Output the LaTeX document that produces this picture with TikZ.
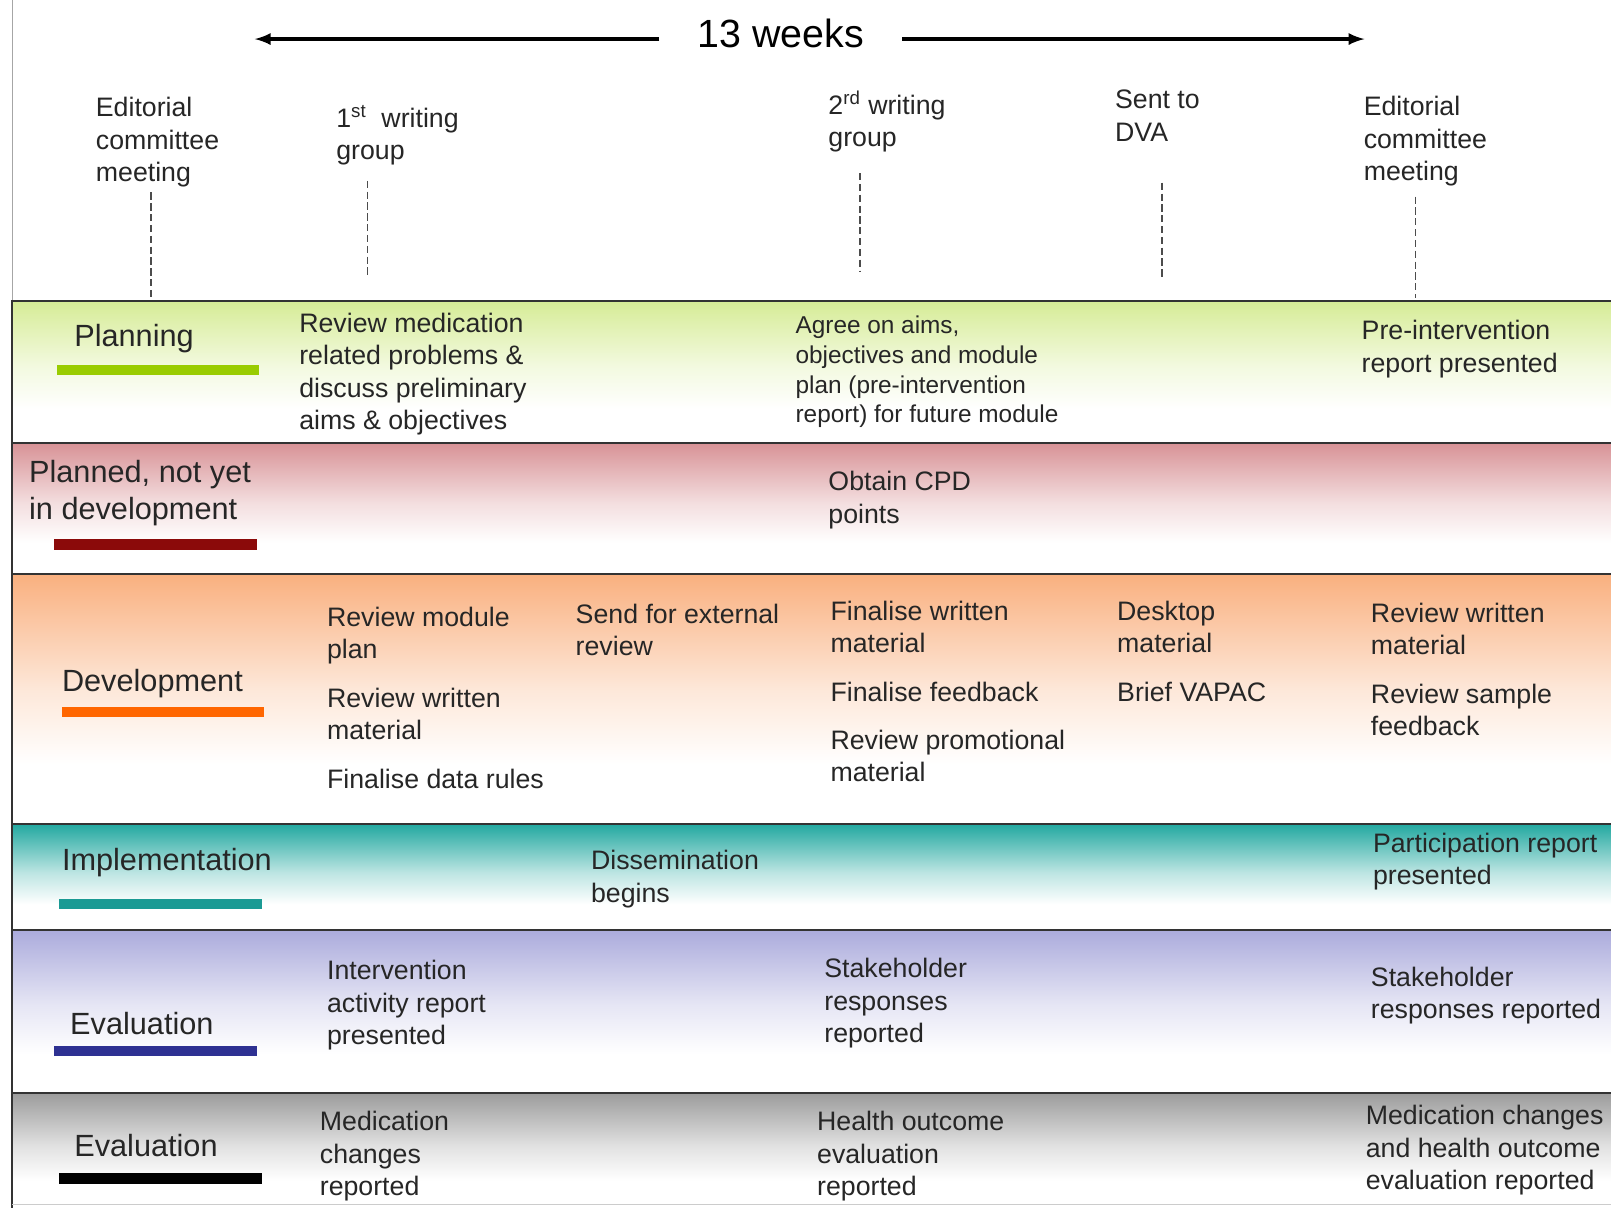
\documentclass[tikz,border=0pt]{standalone}
\usepackage{fontspec}
\setmainfont{Liberation Sans}
\usepackage{tikz}

\definecolor{plangreen}{HTML}{99CC00}
\definecolor{planfade}{HTML}{D6EC96}
\definecolor{notyetred}{HTML}{8B0A0A}
\definecolor{notyetfade}{HTML}{D89296}
\definecolor{devorange}{HTML}{FF6600}
\definecolor{devfade}{HTML}{F9B07F}
\definecolor{impteal}{HTML}{1A9A94}
\definecolor{impfade}{HTML}{22A8A0}
\definecolor{evalblue}{HTML}{2E3192}
\definecolor{evalfade}{HTML}{ABABDC}
\definecolor{evalgray}{HTML}{9C9C9C}

% top colour fading to white, path spans 25bp..75bp
\colorlet{bandtop}{white}
\pgfdeclareverticalshading[bandtop]{bandfade}{100bp}{color(0bp)=(white); color(25bp)=(white); color(37bp)=(white); color(52bp)=(bandtop!30); color(75bp)=(bandtop); color(100bp)=(bandtop)}
\tikzset{fade/.style={shading=bandfade, /utils/exec={\colorlet{bandtop}{#1}}}}

\newcommand{\bodysz}{\fontsize{14.8}{17.9}\selectfont}
\newcommand{\notesz}{\fontsize{13.5}{16.4}\selectfont}
\newcommand{\bandsz}{\fontsize{17}{20.5}\selectfont}
\newcommand{\titlesz}{\fontsize{21.8}{26}\selectfont}

\begin{document}
\begin{tikzpicture}[x=0.02cm, y=-0.02cm,
    txt/.style = {anchor=north west, inner sep=0pt, align=left, font=\bodysz, text=black!85, yshift=-0.05cm},
    note/.style = {txt, font=\notesz},
    band/.style = {txt, font=\bandsz, yshift=-0.01cm},
    tick/.style = {draw=black!70, line width=0.6pt, dash pattern=on 4pt off 2pt},
    rule/.style = {draw=black!80, line width=1.2pt}]
    \useasboundingbox (0,0) rectangle (1568,1176);
    \fill[white] (0,0) rectangle (1568,1176);

    % bands
    \shade[fade=planfade] (12,293) rectangle (1568,431);
    \shade[fade=notyetfade] (12,431) rectangle (1568,559);
    \shade[fade=devfade] (12,559) rectangle (1568,802);
    \shade[fade=impfade] (12,802) rectangle (1568,905);
    \shade[fade=evalfade] (12,905) rectangle (1568,1064);
    \shade[fade=evalgray] (12,1064) rectangle (1568,1176);

    \draw[black!35, line width=0.6pt] (12,0) -- (12,293);
    \draw[rule] (1568,293) -- (12,293) -- (12,1176);
    \draw[rule] (12,431) -- (1568,431);
    \draw[rule] (12,559) -- (1568,559);
    \draw[rule] (12,802) -- (1568,802);
    \draw[rule] (12,905) -- (1568,905);
    \draw[rule] (12,1064) -- (1568,1064);
    \draw[black!20, line width=0.6pt] (12,1172) -- (1568,1172);

    % timeline
    \node[inner xsep=0.74cm, inner ysep=0pt, font=\titlesz] (wk) at (760,33) {13 weeks};
    \coordinate (wkl) at (248,38);
    \coordinate (wkr) at (1328,38);
    \draw[line width=2pt, -latex] (wk.west |- wkl) -- (wkl);
    \draw[line width=2pt, -latex] (wk.east |- wkr) -- (wkr);

    % milestones
    \node[txt] (ec1) at (93,92) {Editorial\\committee\\meeting};
    \node[txt] (wg1) at (327,100) {1\textsuperscript{st}~ writing\\group};
    \node[txt] (wg2) at (806,86) {2\textsuperscript{rd} writing\\group};
    \node[txt] (dva) at (1085,85) {Sent to\\DVA};
    \node[txt] (ec2) at (1327,91) {Editorial\\committee\\meeting};

    \coordinate (ec1t) at (147,290);
    \coordinate (wg1t) at (358,270);
    \coordinate (wg2t) at (837,265);
    \coordinate (dvat) at (1131,272);
    \coordinate (ec2t) at (1378,290);
    \draw[tick] ([yshift=-0.1cm]ec1.south -| ec1t) -- (ec1t);
    \draw[tick] ([yshift=-0.3cm]wg1.south -| wg1t) -- (wg1t);
    \draw[tick] ([yshift=-0.4cm]wg2.south -| wg2t) -- (wg2t);
    \draw[tick] ([yshift=-0.8cm]dva.south -| dvat) -- (dvat);
    \draw[tick] ([yshift=-0.2cm]ec2.south -| ec2t) -- (ec2t);

    % band labels
    \node[band] (plan) at (72,312) {Planning};
    \fill[plangreen] (55,355) rectangle (252,365);
    \node[band] (notyet) at (28,445) {Planned, not yet\\in development};
    \fill[notyetred] (53,525) rectangle (250,535);
    \node[band] (dev) at (60,648) {Development};
    \fill[devorange] (60,688) rectangle (257,698);
    \node[band] (imp) at (60,822) {Implementation};
    \fill[impteal] (57,875) rectangle (255,885);
    \node[band] (eval1) at (68,982) {Evaluation};
    \fill[evalblue] (53,1018) rectangle (250,1028);
    \node[band] (eval2) at (72,1101) {Evaluation};
    \fill[black] (57,1142) rectangle (255,1152);

    % planning
    \node[txt] (plan1) at (291,302) {Review medication\\related problems \&\\discuss preliminary\\aims \& objectives};
    \node[note] (plan2) at (774,305) {Agree on aims,\\objectives and module\\plan (pre-intervention\\report) for future module};
    \node[txt] (plan3) at (1325,309) {Pre-intervention\\report presented};

    % planned, not yet
    \node[txt] (cpd) at (806,456) {Obtain CPD\\points};

    % development
    \node[txt] (dev1) at (318,588) {Review module\\plan\\[9pt]Review written\\material\\[9pt]Finalise data rules};
    \node[txt] (dev2) at (560,585) {Send for external\\review};
    \node[txt] (dev3) at (808,582) {Finalise written\\material\\[9pt]Finalise feedback\\[9pt]Review promotional\\material};
    \node[txt] (dev4) at (1087,582) {Desktop\\material\\[9pt]Brief VAPAC};
    \node[txt] (dev5) at (1334,584) {Review written\\material\\[9pt]Review sample\\feedback};

    % implementation
    \node[txt] (imp1) at (575,825) {Dissemination\\begins};
    \node[txt] (imp2) at (1336,808) {Participation report\\presented};

    % evaluation
    \node[txt] (ev1) at (318,932) {Intervention\\activity report\\presented};
    \node[txt] (ev2) at (802,930) {Stakeholder\\responses\\reported};
    \node[txt] (ev3) at (1334,938) {Stakeholder\\responses reported};
    \node[txt] (ev4) at (311,1079) {Medication\\changes\\reported};
    \node[txt] (ev5) at (795,1079) {Health outcome\\evaluation\\reported};
    \node[txt] (ev6) at (1329,1073) {Medication changes\\and health outcome\\evaluation reported};
\end{tikzpicture}
\end{document}
